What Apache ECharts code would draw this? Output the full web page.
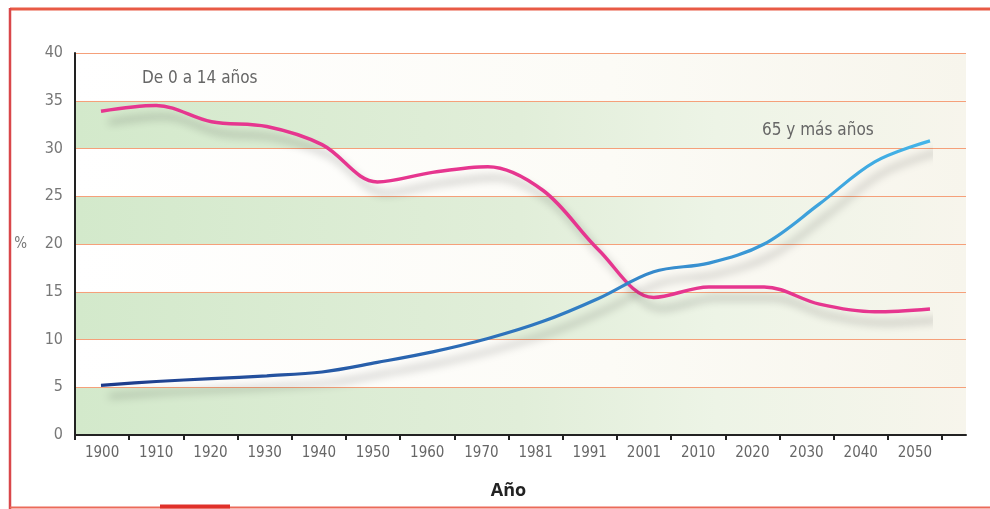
<!DOCTYPE html>
<html>
<head>
    <meta charset="utf-8">
    <title>Población por edades</title>
    <script src="https://cdn.jsdelivr.net/npm/echarts@6/dist/echarts.min.js"></script>
    <style>
        * { margin: 0; padding: 0; }
        body { background: #fff; }
    </style>
</head>
<body>
    <div id="main" style="width: 990px; height: 509px;"></div>
    <script type="text/javascript">
        // datos
        var years = ['1900', '1910', '1920', '1930', '1940', '1950', '1960', '1970', '1981', '1991', '2001', '2010', '2020', '2030', '2040', '2050'];
        var young = [33.9, 34.5, 32.8, 32.3, 30.4, 26.5, 27.5, 28.1, 25.6, 19.4, 14.4, 15.5, 15.5, 13.7, 12.9, 13.2];
        var old = [5.2, 5.6, 5.9, 6.2, 6.6, 7.6, 8.7, 10.1, 11.9, 14.3, 17.1, 18.0, 20.0, 24.2, 28.6, 30.8];

        var narrow = "Liberation Sans Narrow, DejaVu Sans Condensed, Roboto, sans-serif";

        var myChart = echarts.init(document.getElementById('main'));

        var grad = function (stops) {
            return new echarts.graphic.LinearGradient(0, 0, 1, 0, stops);
        };
        var greenBand = grad([
            { offset: 0, color: '#d3e9cb' },
            { offset: 0.5, color: '#e1eed9' },
            { offset: 0.72, color: '#edf4e6' },
            { offset: 1, color: '#f7f5ec' }
        ]);
        var whiteBand = grad([
            { offset: 0, color: '#ffffff' },
            { offset: 0.6, color: '#fcfbf6' },
            { offset: 1, color: '#f7f5ec' }
        ]);

        var hiddenY = function (idx) {
            return {
                type: 'value', gridIndex: idx, min: 0, max: 40, interval: 5,
                show: false
            };
        };

        var option = {
            backgroundColor: '#fff',
            animation: false,
            grid: [
                { left: 75, right: 24, top: 53, bottom: 74 },
                { left: 75, width: 867, top: 53, bottom: 74 },
                { left: 101, width: 829, top: 53, bottom: 74 }
            ],
            xAxis: [
                {
                    type: 'value', gridIndex: 0, min: 0, max: 1,
                    axisLine: { show: true, lineStyle: { color: '#222', width: 2 } },
                    axisTick: { show: false }, axisLabel: { show: false },
                    splitLine: { show: false }
                },
                {
                    type: 'category', gridIndex: 1, data: years,
                    axisLine: { show: false },
                    axisTick: { show: true, length: 5, lineStyle: { color: '#222', width: 2 } },
                    axisLabel: { color: '#666', fontSize: 15, fontFamily: narrow, margin: 11 },
                    name: 'Año', nameLocation: 'middle', nameGap: 47,
                    nameTextStyle: { color: '#222', fontSize: 18, fontWeight: 'bold', fontFamily: 'Open Sans' }
                },
                {
                    type: 'category', gridIndex: 2, data: years, boundaryGap: false, show: false
                }
            ],
            yAxis: [
                {
                    type: 'value', gridIndex: 0, min: 0, max: 40, interval: 5,
                    axisLine: { show: true, lineStyle: { color: '#222', width: 2 } },
                    axisTick: { show: false },
                    axisLabel: { color: '#777', fontSize: 16, fontFamily: narrow, margin: 12 },
                    splitLine: { show: true, lineStyle: { color: '#f5a07a', width: 1.2 } },
                    splitArea: { show: true, areaStyle: { color: [greenBand, whiteBand] } },
                    name: '%', nameLocation: 'middle', nameGap: 48, nameRotate: 0,
                    nameTextStyle: { color: '#777', fontSize: 15, fontFamily: narrow }
                },
                hiddenY(1),
                hiddenY(2)
            ],
            series: [
                {
                    name: 'De 0 a 14 años',
                    type: 'line',
                    xAxisIndex: 2, yAxisIndex: 2,
                    data: young,
                    smooth: 0.35,
                    symbol: 'none',
                    lineStyle: {
                        color: '#e6368f', width: 3.5,
                        shadowColor: 'rgba(0,0,0,0.28)', shadowBlur: 9,
                        shadowOffsetX: 8, shadowOffsetY: 11
                    }
                },
                {
                    name: '65 y más años',
                    type: 'line',
                    xAxisIndex: 2, yAxisIndex: 2,
                    data: old,
                    smooth: 0.35,
                    symbol: 'none',
                    lineStyle: {
                        color: grad([
                            { offset: 0, color: '#1d3a8a' },
                            { offset: 0.5, color: '#2e74bd' },
                            { offset: 1, color: '#44b5e9' }
                        ]),
                        width: 3.2,
                        shadowColor: 'rgba(0,0,0,0.28)', shadowBlur: 9,
                        shadowOffsetX: 8, shadowOffsetY: 11
                    }
                }
            ],
            graphic: [
                // marco rojo
                { type: 'line', shape: { x1: 10, y1: 9, x2: 990, y2: 9 }, style: { stroke: '#e85a45', lineWidth: 3 } },
                { type: 'line', shape: { x1: 10, y1: 8, x2: 10, y2: 509 }, style: { stroke: '#d9474a', lineWidth: 2.5 } },
                { type: 'line', shape: { x1: 10, y1: 507.5, x2: 990, y2: 507.5 }, style: { stroke: '#ec6a5a', lineWidth: 2 } },
                { type: 'line', shape: { x1: 160, y1: 506.5, x2: 230, y2: 506.5 }, style: { stroke: '#e0302a', lineWidth: 4 } },
                {
                    type: 'text', left: 142, top: 70, z: 100,
                    style: { text: 'De 0 a 14 años', fill: '#666', fontSize: 17, fontFamily: narrow }
                },
                {
                    type: 'text', left: 762, top: 122, z: 100,
                    style: { text: '65 y más años', fill: '#666', fontSize: 17, fontFamily: narrow }
                }
            ]
        };

        myChart.setOption(option);
    </script>
</body>
</html>
